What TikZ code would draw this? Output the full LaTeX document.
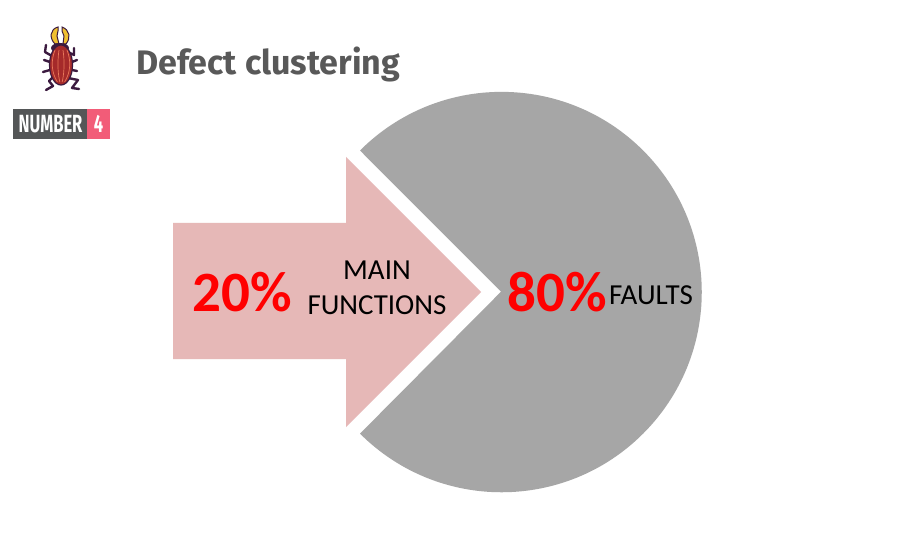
\documentclass[tikz,border=0pt]{standalone}
\usepackage{fontspec}
\setmainfont{Carlito}
\newfontfamily\titlefont{Fira Sans}
\definecolor{piegray}{HTML}{A6A6A6}
\definecolor{arrowpink}{HTML}{E6B8B7}
\definecolor{titlegray}{HTML}{595959}
\definecolor{badgegray}{HTML}{545657}
\definecolor{badgepink}{HTML}{F25C78}
\definecolor{beetledark}{HTML}{3B1A3F}
\definecolor{beetlered}{HTML}{A52A2A}
\definecolor{beetleline}{HTML}{E8785A}
\definecolor{beetleyellow}{HTML}{F0C030}
\begin{document}
\begin{tikzpicture}[x=1pt,y=-1pt,
  lbl/.style={inner sep=0pt,font=\fontsize{29}{35}\selectfont,text=black,align=center},
  pct/.style={inner sep=0pt,font=\fontsize{57}{65}\selectfont\bfseries,text=red},
  leg/.style={draw=beetledark,line width=2.4pt,line join=round,line cap=round}]
\useasboundingbox (0,0) rectangle (916,548);
\fill[white] (0,0) rectangle (916,548);
% pie
\fill[piegray] (501,291.7) -- (360,150.5) arc[start angle=225,end angle=495,radius=200.2] -- cycle;
% arrow
\fill[arrowpink] (173,223) -- (346,223) -- (346,157) -- (481,292) -- (346,427) -- (346,359) -- (173,359) -- cycle;
% labels
\node[lbl] (mainf) at (377,288) {MAIN\\FUNCTIONS};
\node[pct] (p20) at (242,292.5) {20\%};
\node[pct] (p80) at (557,292.5) {80\%};
\node[lbl] (faults) at (651,295.5) {FAULTS};
% title
\node[inner sep=0pt,anchor=west,text=titlegray] (title) at (136,64) {\titlefont\bfseries\fontsize{34}{40}\selectfont Defect clustering};
% badge
\fill[badgegray] (13,109) rectangle (87,139);
\fill[badgepink] (87,109) rectangle (110,139);
\node[inner sep=0pt,text=white] (num) at (50.5,124) {\titlefont\bfseries\fontsize{23}{26}\selectfont\scalebox{0.72}[1.08]{NUMBER}};
\node[inner sep=0pt,text=white] (four) at (98.5,124) {\titlefont\bfseries\fontsize{23}{26}\selectfont\scalebox{0.72}[1.08]{4}};
% beetle legs
\draw[leg] (52,56) -- (45,52) -- (46,45);
\draw[leg] (68,52) -- (74,55) -- (74,48);
\draw[leg] (50,62) -- (44,60);
\draw[leg] (72,62) -- (77,60);
\draw[leg] (50,70) -- (43,72);
\draw[leg] (72,70) -- (77,71);
\draw[leg] (53,77) -- (49,81) -- (53,86) -- (46,90);
\draw[leg] (68,78) -- (78,80) -- (72,88) -- (79,89);
% mandibles
\fill[beetleyellow,draw=beetledark,line width=1pt] (55,44) .. controls (49,38) and (50,29) .. (58,27) -- (58,31) -- (57,36) -- (59,44) -- cycle;
\fill[beetleyellow,draw=beetledark,line width=1pt] (66,44) .. controls (71,38) and (70,30) .. (62,27) -- (62,31) -- (64,36) -- (63,44) -- cycle;
% head and body
\fill[beetledark] (60,48) ellipse[x radius=9,y radius=5];
\fill[beetlered,draw=beetledark,line width=1.2pt] (61,65) ellipse[x radius=11.5,y radius=20];
\foreach \dx/\bend in {-6/-4,-2/-1.5,2/1.5,6/4}
  \draw[beetleline,line width=0.7pt] (61+\dx,50) .. controls (61+\dx+\bend,60) and (61+\dx+\bend,72) .. (61+\dx*0.6,82);
\end{tikzpicture}
\end{document}
